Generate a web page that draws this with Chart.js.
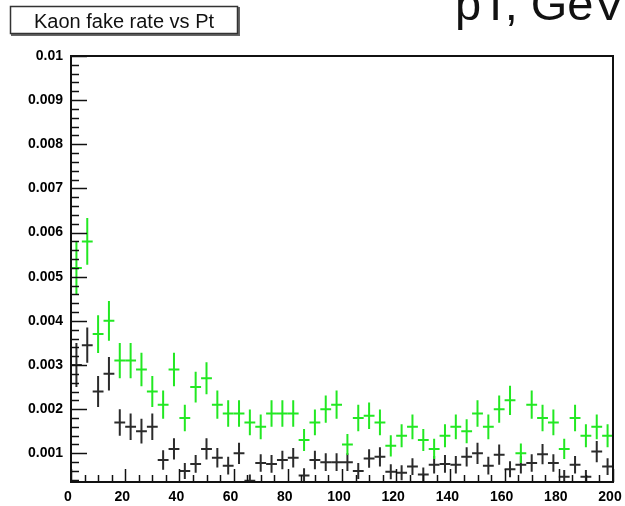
<!DOCTYPE html>
<html>
<head>
<meta charset="utf-8">
<script src="https://cdn.jsdelivr.net/npm/chart.js@4.4.1/dist/chart.umd.min.js"></script>
<style>
  html, body { margin: 0; padding: 0; background: #fff; }
  #contenedor { width: 625px; height: 506px; position: relative; }
</style>
</head>
<body>
<div id="contenedor"><canvas id="graficaKaon"></canvas></div>
<script>
// bins de 4 GeV, centros de 2 a 198
const binCenters = [
  2, 6, 10, 14, 18, 22, 26, 30, 34, 38,
  42, 46, 50, 54, 58, 62, 66, 70, 74, 78,
  82, 86, 90, 94, 98, 102, 106, 110, 114, 118,
  122, 126, 130, 134, 138, 142, 146, 150, 154, 158,
  162, 166, 170, 174, 178, 182, 186, 190, 194, 198
];
const binHalfWidth = 2;

// serie verde
const fakeRateGreen = [
  0.0052, 0.0058, 0.0037, 0.0040, 0.0031, 0.0031, 0.0029, 0.0024, 0.0021, 0.0029,
  0.0018, 0.0025, 0.0027, 0.0021, 0.0019, 0.0019, 0.0017, 0.0016, 0.0019, 0.0019,
  0.0019, 0.0013, 0.0017, 0.0020, 0.0021, 0.0012, 0.0018, 0.00185, 0.0017, 0.00117,
  0.0014, 0.0016, 0.0013, 0.0011, 0.0014, 0.0016, 0.0015, 0.0019, 0.0016, 0.0020,
  0.0022, 0.0010, 0.0021, 0.0018, 0.0017, 0.0011, 0.0018, 0.0014, 0.0016, 0.0014
];
const errGreen = [
  0.0006, 0.00053, 0.00043, 0.00045, 0.0004, 0.0004, 0.00038, 0.00035, 0.00032, 0.00038,
  0.0003, 0.00035, 0.00036, 0.00032, 0.0003, 0.0003, 0.00029, 0.00028, 0.0003, 0.0003,
  0.0003, 0.00025, 0.00029, 0.00031, 0.00032, 0.00024, 0.0003, 0.0003, 0.00029, 0.00024,
  0.00026, 0.00028, 0.00025, 0.00023, 0.00026, 0.00028, 0.00027, 0.0003, 0.00028, 0.00031,
  0.00033, 0.00022, 0.00032, 0.0003, 0.00029, 0.00023, 0.0003, 0.00026, 0.00028, 0.00026
];

// serie oscura
const fakeRateDark = [
  0.0030, 0.00345, 0.0024, 0.0028, 0.0017, 0.0016, 0.0015, 0.0016, 0.00085, 0.0011,
  0.0006, 0.00076, 0.0011, 0.0009, 0.00072, 0.0010, 0.00038, 0.00078, 0.00076, 0.00085,
  0.0009, 0.0005, 0.00085, 0.0008, 0.0008, 0.0008, 0.0006, 0.00088, 0.00092, 0.00058,
  0.00056, 0.0007, 0.00052, 0.00074, 0.00076, 0.00074, 0.00092, 0.0010, 0.00072, 0.00097,
  0.00064, 0.00074, 0.00078, 0.00098, 0.00078, 0.00047, 0.00074, 0.00047, 0.00104, 0.0007
];
const errDark = [
  0.0005, 0.0004, 0.00035, 0.00038, 0.0003, 0.0003, 0.00028, 0.0003, 0.00022, 0.00024,
  0.00018, 0.0002, 0.00024, 0.00022, 0.0002, 0.00024, 0.00014, 0.0002, 0.0002, 0.00021,
  0.00022, 0.00016, 0.00021, 0.0002, 0.0002, 0.0002, 0.00018, 0.00021, 0.00022, 0.00017,
  0.00017, 0.00019, 0.00016, 0.0002, 0.0002, 0.0002, 0.00022, 0.00024, 0.0002, 0.00023,
  0.00018, 0.0002, 0.0002, 0.00023, 0.0002, 0.00015, 0.0002, 0.00015, 0.00024, 0.00019
];

const xTickLabels = [0, 20, 40, 60, 80, 100, 120, 140, 160, 180, 200];
const yTickLabels = [0.001, 0.002, 0.003, 0.004, 0.005, 0.006, 0.007, 0.008, 0.009, 0.01];

const toPoints = (vals, errs) =>
  binCenters.map((x, i) => ({ x: x, y: vals[i], err: errs[i] }));

// barras de error estilo ROOT (ancho del bin en x, error en y)
const errorBars = {
  id: "errorBars",
  afterDatasetsDraw(chart) {
    const { ctx, chartArea, scales } = chart;
    const x = scales.x, y = scales.y;
    ctx.save();
    ctx.beginPath();
    ctx.rect(chartArea.left, chartArea.top, chartArea.right - chartArea.left, chartArea.bottom - chartArea.top);
    ctx.clip();
    chart.data.datasets.forEach(function (ds) {
      ctx.strokeStyle = ds.borderColor;
      ctx.lineWidth = 2;
      ds.data.forEach(function (p) {
        const px = x.getPixelForValue(p.x);
        const py = y.getPixelForValue(p.y);
        ctx.beginPath();
        ctx.moveTo(x.getPixelForValue(p.x - binHalfWidth), py);
        ctx.lineTo(x.getPixelForValue(p.x + binHalfWidth), py);
        ctx.moveTo(px, y.getPixelForValue(p.y - p.err));
        ctx.lineTo(px, y.getPixelForValue(p.y + p.err));
        ctx.stroke();
      });
    });
    ctx.restore();
  },
};

// marco, ticks hacia dentro y textos
const marcoRoot = {
  id: "marcoRoot",
  afterDraw(chart) {
    const { ctx, chartArea, scales } = chart;
    const x = scales.x, y = scales.y;
    const L = chartArea.left, R = chartArea.right, T = chartArea.top, B = chartArea.bottom;
    ctx.save();
    ctx.strokeStyle = "#111";
    ctx.lineWidth = 1.5;
    // ticks eje x: cada 5, mayores cada 20
    for (let v = 0; v <= 200; v += 5) {
      const px = Math.round(x.getPixelForValue(v)) + 0.5;
      const len = v % 20 === 0 ? 13 : 7;
      ctx.beginPath();
      ctx.moveTo(px, B);
      ctx.lineTo(px, B - len);
      ctx.stroke();
    }
    // ticks eje y: cada 0.0002, mayores cada 0.001
    for (let k = 2; k <= 50; k++) {
      const v = k * 0.0002;
      if (v < y.min) continue;
      const py = Math.round(y.getPixelForValue(v)) + 0.5;
      const len = k % 5 === 0 ? 16 : 8;
      ctx.beginPath();
      ctx.moveTo(L, py);
      ctx.lineTo(L + len, py);
      ctx.stroke();
    }
    ctx.lineWidth = 2;
    ctx.strokeRect(L, T, R - L, B - T);

    // caja del título
    ctx.fillStyle = "#666";
    ctx.fillRect(11, 7, 229, 29);
    ctx.fillStyle = "#fff";
    ctx.fillRect(10, 6, 228, 28);
    ctx.strokeStyle = "#333";
    ctx.lineWidth = 1.5;
    ctx.strokeRect(10.5, 6.5, 227, 27);
    ctx.fillStyle = "#111";
    ctx.font = "20px 'Liberation Sans', Arial, sans-serif";
    ctx.textAlign = "center";
    ctx.textBaseline = "alphabetic";
    ctx.fillText("Kaon fake rate vs Pt", 124, 28);

    // título del eje x arriba a la derecha
    ctx.font = "47px 'Liberation Sans', Arial, sans-serif";
    ctx.textAlign = "left";
    ctx.fillText("pT, GeV", 455, 20);
    ctx.restore();
  },
};

const fuenteTicks = { family: "'Liberation Sans', Arial, sans-serif", size: 14, weight: "bold" };

new Chart(document.getElementById("graficaKaon").getContext("2d"), {
  type: "scatter",
  data: {
    datasets: [
      {
        label: "dark",
        data: toPoints(fakeRateDark, errDark),
        borderColor: "#2b2b2b",
        backgroundColor: "#2b2b2b",
        pointRadius: 0,
        pointHoverRadius: 0,
      },
      {
        label: "green",
        data: toPoints(fakeRateGreen, errGreen),
        borderColor: "#22e822",
        backgroundColor: "#22e822",
        pointRadius: 0,
        pointHoverRadius: 0,
      },
    ],
  },
  options: {
    responsive: true,
    maintainAspectRatio: false,
    animation: false,
    layout: { padding: { top: 56, right: 12, left: 0, bottom: 0 } },
    plugins: {
      legend: { display: false },
      tooltip: { enabled: false },
      title: { display: false },
    },
    scales: {
      x: {
        type: "linear",
        min: 0,
        max: 200,
        grid: { display: false, drawTicks: false },
        border: { display: false },
        afterBuildTicks: function (s) {
          s.ticks = xTickLabels.map((v) => ({ value: v }));
        },
        afterFit: function (s) {
          s.height = 24;
          s.paddingLeft = 0;
          s.paddingRight = 0;
        },
        ticks: {
          padding: 7,
          labelOffset: -3,
          color: "#000",
          font: fuenteTicks,
          autoSkip: false,
          maxRotation: 0,
        },
      },
      y: {
        type: "linear",
        min: 0.00035,
        max: 0.01,
        grid: { display: false, drawTicks: false },
        border: { display: false },
        afterBuildTicks: function (s) {
          s.ticks = yTickLabels.map((v) => ({ value: v }));
        },
        afterFit: function (s) {
          s.width = 71;
          s.paddingTop = 0;
          s.paddingBottom = 0;
        },
        ticks: {
          padding: 8,
          color: "#000",
          font: fuenteTicks,
          autoSkip: false,
          callback: function (value) {
            return String(Number(value.toFixed(3)));
          },
        },
      },
    },
  },
  plugins: [errorBars, marcoRoot],
});
</script>
</body>
</html>
